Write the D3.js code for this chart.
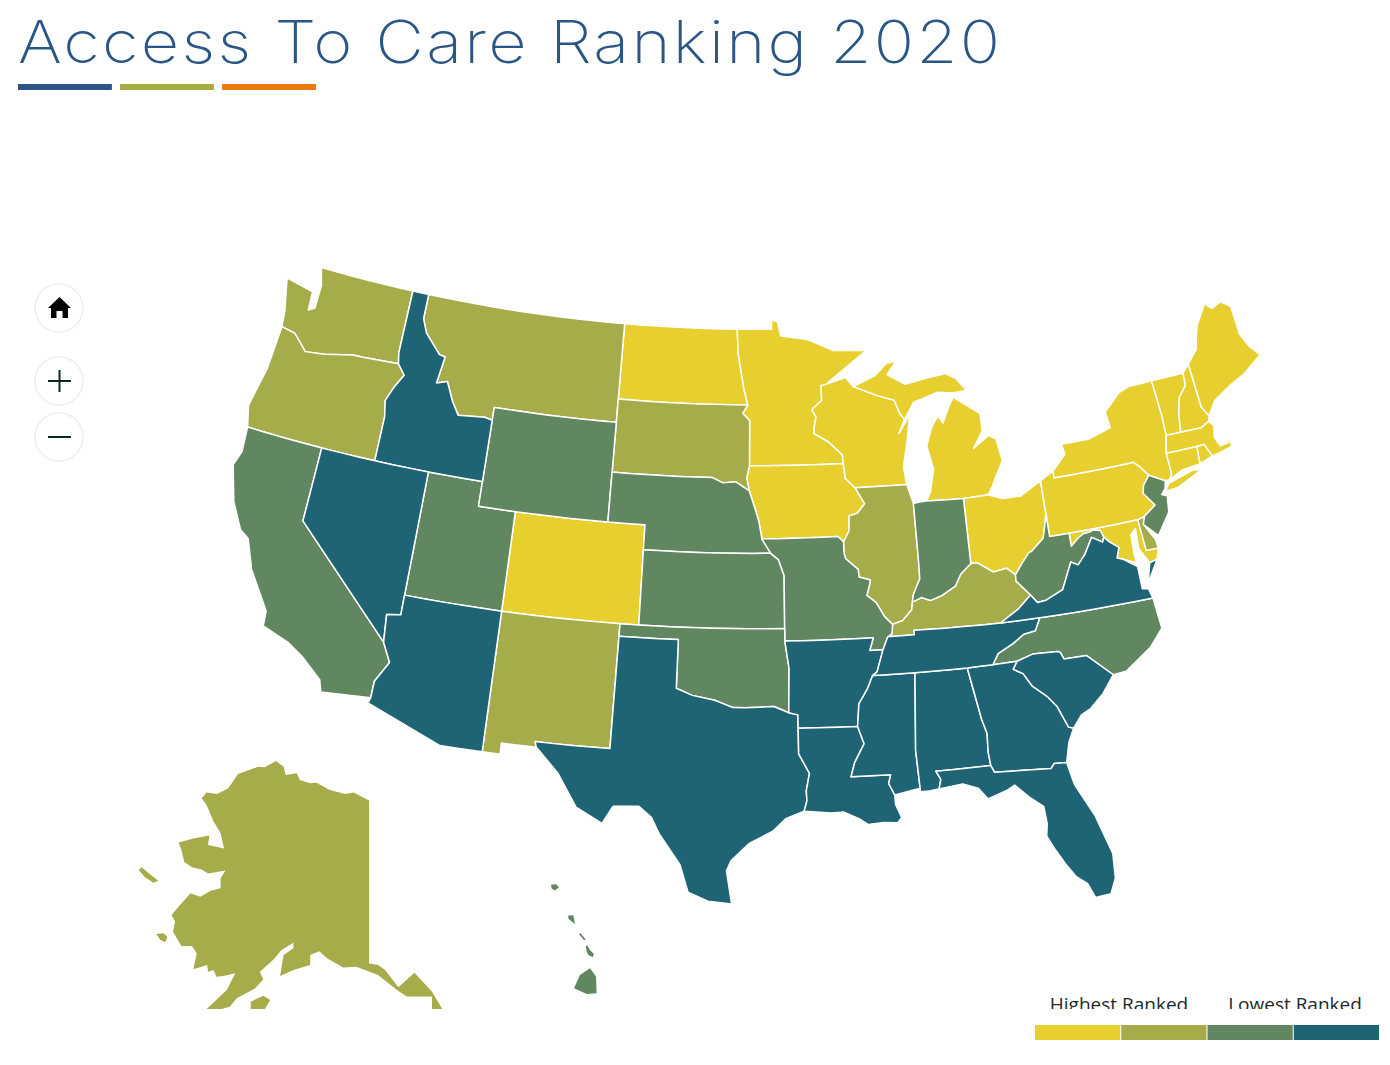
<!DOCTYPE html>
<html><head><meta charset="utf-8">
<script src="https://cdn.jsdelivr.net/npm/d3@7"></script>
<style>html,body{margin:0;background:#fff;overflow:hidden}svg{display:block}</style>
</head><body><svg id="c" width="1390" height="1065"></svg>
<script>
// ---------- shared borders (lon, lat) ----------
const stCroix=[[-92.01,46.71],[-92.29,46.66],[-92.29,46.07],[-92.87,45.72],[-92.65,45.4],[-92.76,45.05],[-92.8,44.75]];
const missMNWI=[[-92.8,44.75],[-92.0,44.4],[-91.25,43.85],[-91.22,43.5]];
const missIAWI=[[-91.22,43.5],[-91.15,42.9],[-90.64,42.51]];
const missIAIL=[[-90.64,42.51],[-90.18,41.85],[-90.58,41.5],[-91.05,41.4],[-91.1,40.8],[-91.42,40.38]];
const missMOIL=[[-91.42,40.38],[-91.42,39.93],[-91.35,39.7],[-90.72,39.25],[-90.7,38.95],[-90.12,38.8],[-90.18,38.6],[-90.35,38.2],[-89.9,37.9],[-89.5,37.3],[-89.13,36.98]];
const missKYMO=[[-89.13,36.98],[-89.2,36.6],[-89.42,36.5]];
const missTNAR=[[-89.42,36.5],[-89.7,36.0],[-90.07,35.13],[-90.3,35.0]];
const missARMS=[[-90.3,35.0],[-90.58,34.5],[-91.05,33.9],[-91.17,33.0]];
const missLAMS=[[-91.17,33.0],[-90.9,32.3],[-91.4,31.55],[-91.6,31.0]];
const ohioIL=[[-89.13,36.98],[-88.6,37.1],[-88.1,37.5],[-88.03,37.8]];
const ohioIN=[[-88.03,37.8],[-87.55,37.95],[-87.1,37.8],[-86.5,37.95],[-85.75,38.27],[-85.4,38.73],[-84.82,39.1]];
const ohioOHKY=[[-84.82,39.1],[-84.5,39.1],[-83.7,38.65],[-83,38.73],[-82.59,38.42]];
const ohioOHWV=[[-82.59,38.42],[-82.15,38.85],[-81.75,39.2],[-81.55,39.27],[-80.87,39.7],[-80.72,40.07],[-80.52,40.64]];
const wabash=[[-88.03,37.8],[-87.95,38.1],[-87.55,38.7],[-87.53,39.35]];
const moIA=[[-96.45,42.49],[-96.1,41.7],[-95.92,41.25],[-95.77,40.58]];
const moMO=[[-95.77,40.58],[-95.3,40.0]];
const moKS=[[-95.3,40.0],[-94.9,39.75],[-94.61,39.11]];
const redRiver=[[-100,34.56],[-99.2,34.3],[-98.1,34.13],[-97.2,33.85],[-96.6,33.85],[-95.2,33.9],[-94.48,33.64]];
const rioGrande=[[-97.15,25.96],[-98.2,26.05],[-99.1,26.4],[-99.5,27.5],[-100.5,28.7],[-100.9,29.35],[-101.5,29.77],[-102.7,29.7],[-103.15,28.98],[-104.4,29.55],[-105.4,30.85],[-106.53,31.78]];
const sabine=[[-93.84,29.69],[-93.7,30.1],[-93.72,30.5],[-93.55,31.2],[-94.04,31.99],[-94.04,33.02]];
const gulfTX=[[-93.84,29.69],[-94.7,29.4],[-95.3,28.9],[-96.4,28.4],[-97.2,27.7],[-97.4,27.3],[-97.15,25.96]];
const gulfLA=[[-89.6,30.17],[-89.6,29.8],[-89.35,29.25],[-89.55,29.05],[-90.2,29.1],[-90.9,29.05],[-91.3,29.3],[-92,29.6],[-92.6,29.58],[-93.84,29.69]];
const pearl=[[-91.6,31.0],[-89.73,31.0],[-89.85,30.65],[-89.6,30.17]];
const tennNC=[[-81.68,36.59],[-82,36.1],[-82.6,36.03],[-83.2,35.72],[-84,35.4],[-84.32,34.99]];
const savannah=[[-83.11,35],[-83.35,34.7],[-82.9,34.48],[-82.55,33.95],[-81.9,33.45],[-81.5,33],[-81.1,32.1],[-80.87,32.03]];
const ncSC=[[-78.55,33.86],[-79.67,34.8],[-80.8,34.82],[-80.93,35.1],[-81.04,35.15],[-82.3,35.2],[-83.11,35]];
const chattahoochee=[[-85.6,34.98],[-85.18,32.87],[-85,32.3],[-85.05,31.55],[-85,31],[-84.86,30.71]];
const potomacUp=[[-79.48,39.2],[-79.05,39.47],[-78.75,39.6],[-78.4,39.62],[-78.2,39.68],[-77.83,39.6],[-77.72,39.32]];
const vaWV=[[-77.72,39.32],[-77.83,39.13],[-78.35,39.4],[-78.87,38.77],[-79.3,38.42],[-79.65,38.58],[-80.3,37.55],[-81.22,37.24],[-81.68,37.2],[-81.97,37.54]];
const kyWV=[[-81.97,37.54],[-82.6,38.17],[-82.59,38.42]];
const kyVA=[[-81.97,37.54],[-82.7,37.05],[-83.68,36.6]];
const idMT=[[-116.05,49],[-116.05,48],[-115.7,47.45],[-114.7,46.7],[-114.35,46.65],[-114.55,45.56],[-113.95,45.7],[-113.45,44.95],[-113,44.45],[-111.5,44.55],[-111.05,44.48]];
const snake=[[-117.03,42],[-117.03,43.8],[-117.2,44.45],[-116.9,45],[-116.46,45.6],[-116.92,46]];
const columbia=[[-116.92,46],[-119,45.93],[-119.6,45.92],[-121.2,45.65],[-122.3,45.55],[-122.8,45.9],[-123.2,46.15],[-124,46.25]];
const colorado=[[-114.05,36.2],[-114.75,36.1],[-114.63,35],[-114.15,34.25],[-114.7,33.4],[-114.72,32.72]];
const delaware=[[-74.7,41.36],[-75.1,41],[-75.2,40.7],[-74.72,40.15],[-75.4,39.8]];
const nyPA=[[-79.76,42.27],[-79.76,42],[-75.35,42],[-75.05,41.75],[-74.7,41.36]];
const ctRiverVT=[[-72.46,42.73],[-72.3,43.5],[-72.05,44.1],[-71.55,44.5],[-71.5,45.01]];
const meNH=[[-70.7,43.07],[-71,43.5],[-71.08,45.3]];
const sdMN=[[-96.56,45.94],[-96.85,45.6],[-96.45,45.3],[-96.45,43.5]];
const wiMIb=[[-90.42,46.57],[-89.1,46.15],[-88.1,45.9],[-87.85,45.35],[-87.6,45.1]];
const neSD=[[-104.05,43],[-98.5,43],[-97.9,42.8],[-97.2,42.85],[-96.45,42.49]];
const flNorth=[[-81.45,30.71],[-82.03,30.75],[-82.21,30.57],[-84.86,30.71]];
const rev=a=>a.slice().reverse();
// ---------- state rings (lon, lat) ----------
const WA=[[-124,46.25],...rev(columbia).slice(1),[-117.04,46.42],[-117.03,49],[-122.75,49],[-122.45,48.3],[-122.45,47.35],[-122.8,47.2],[-122.85,47.95],[-124.55,48.2],[-124.1,46.9]];
const OR=[[-124.2,42],...snake,...columbia.slice(1),[-124.1,44.5],[-124.5,42.85]];
const CA=[[-124.2,42],[-120,42],[-120,39],...colorado.slice(2),[-117.12,32.53],[-117.3,33],[-118.4,33.75],[-119.2,34.15],[-120.6,34.55],[-120.65,35.15],[-121.9,36.6],[-122.5,37.75],[-123,38],[-123.75,39],[-124.35,40.4],[-124.1,41]];
const NV=[[-120,42],[-114.04,42],[-114.05,37],...colorado.slice(0,3),[-120,39]];
const ID=[[-117.03,49],...idMT,[-111.05,42],...snake,[-117.04,46.42]];
const MT=[...rev(idMT),[-104.05,49],[-104.05,45],[-111.05,45]];
const WY=[[-111.05,45],[-104.05,45],[-104.05,41],[-111.05,41]];
const UT=[[-114.04,42],[-111.05,42],[-111.05,41],[-109.05,41],[-109.05,37],[-114.05,37]];
const CO=[[-109.05,41],[-102.05,41],[-102.04,37],[-109.05,37]];
const AZ=[[-114.05,37],[-109.05,37],[-109.05,31.33],[-111.07,31.33],[-114.8,32.5],...rev(colorado)];
const NM=[[-109.05,37],[-103,37],[-103.04,32],[-106.62,32],[-106.53,31.78],[-108.2,31.78],[-108.2,31.33],[-109.05,31.33]];
const ND=[[-104.05,49],[-97.23,49],[-97.15,48],[-96.8,46.6],[-96.56,45.94],[-104.05,45.94]];
const SD=[[-104.05,45.94],...sdMN,[-96.6,43],...rev(neSD)];
const NE=[...neSD,...moIA.slice(1),...moMO.slice(1),[-102.05,40],[-102.05,41],[-104.05,41]];
const KS=[[-102.05,40],...moKS,[-94.62,37],[-102.04,37]];
const OK=[[-103,37],[-94.62,37],[-94.62,36.5],[-94.43,35.4],...rev(redRiver),[-100,36.5],[-103,36.5]];
const TX=[[-103,36.5],[-100,36.5],...redRiver,[-94.04,33.55],...rev(sabine).slice(0,-1),...gulfTX,...rioGrande.slice(1),[-106.62,32],[-103.04,32]];
const MN=[[-97.23,49],[-95.15,49],[-95.15,49.38],[-94.8,49.3],[-94.6,48.72],[-93,48.55],[-91.5,48.07],[-89.5,48],...stCroix,...missMNWI.slice(1),...rev(sdMN),[-96.8,46.6],[-97.15,48]];
const IA=[[-96.45,43.5],...missIAWI,...missIAIL.slice(1),[-91.7,40.6],...rev(moIA),[-96.6,43]];
const MO=[[-95.77,40.58],[-91.7,40.6],...missMOIL,...missKYMO.slice(1),[-89.7,36],[-90.37,36],[-90.15,36.5],[-94.62,36.5],[-94.62,37],...rev(moKS),...rev(moMO)];
const AR=[[-94.62,36.5],[-90.15,36.5],[-90.37,36],[-89.7,36],[-90.07,35.13],...missARMS,[-94.04,33.02],[-94.04,33.55],[-94.48,33.64],[-94.43,35.4]];
const LA=[[-94.04,33.02],...missLAMS,...pearl.slice(1),...gulfLA.slice(1),...sabine.slice(1)];
const WI=[...wiMIb,[-88,44.55],[-87.3,45.25],[-87.55,44.3],[-87.9,43.2],[-87.8,42.49],...rev(missIAWI),...rev(missMNWI).slice(1),...rev(stCroix).slice(1),[-90.85,46.95]];
const IL=[[-87.53,39.35],[-87.53,41.71],[-87.8,42.49],...missIAIL,...missMOIL.slice(1),...ohioIL.slice(1),...wabash.slice(1,-1)];
const IN=[...rev(ohioIN),...wabash.slice(1),[-87.53,41.71],[-87.2,41.75],[-86.82,41.76],[-84.8,41.7]];
const OH=[...ohioOHKY,...ohioOHWV.slice(1),[-80.52,41.98],[-81.7,41.5],[-82.7,41.5],[-83.45,41.73],[-84.8,41.7]];
const MIL=[[-84.8,41.7],[-83.45,41.73],[-83.15,42.05],[-82.9,42.4],[-82.42,43],[-82.6,43.9],[-83,44.07],[-83.9,43.65],[-83.3,44.3],[-83.3,45],[-84.7,45.78],[-85,45.45],[-85.45,44.8],[-85.7,45.1],[-86.1,44.7],[-86.5,43.95],[-86.25,43],[-86.55,42.1],[-86.82,41.76]];
const MIU=[[-90.42,46.57],[-89.1,46.95],[-88.4,47.4],[-87.8,47.47],[-88.4,46.95],[-87.4,46.5],[-86.1,46.67],[-85,46.77],[-84.4,46.5],[-83.9,46],[-84.7,45.95],[-85.6,46.05],[-86.5,45.85],[-87,45.75],[-87.6,45.1],[-87.85,45.35],[-88.1,45.9],[-89.1,46.15]];
const KY=[...ohioIL,...ohioIN.slice(1),...ohioOHKY.slice(1),...rev(kyWV).slice(1),...kyVA.slice(1),[-86.5,36.65],[-88.07,36.68],[-88.07,36.5],[-89.42,36.5],[-89.2,36.6]];
const TN=[[-89.42,36.5],[-88.07,36.5],[-88.07,36.68],[-86.5,36.65],[-83.68,36.6],...tennNC,[-85.6,34.98],[-88.2,34.99],[-90.3,35],[-90.07,35.13],[-89.7,36]];
const MS=[[-90.3,35],[-88.2,34.99],[-88.47,31.9],[-88.4,30.37],[-89.6,30.17],...rev(pearl).slice(1),...rev(missLAMS).slice(1),...rev(missARMS).slice(1)];
const AL=[[-88.2,34.99],[-85.6,34.98],...chattahoochee.slice(1,5),[-87.6,31],[-87.4,30.65],[-87.52,30.28],[-88,30.23],[-88.4,30.23],[-88.4,30.37],[-88.47,31.9]];
const GA=[[-85.6,34.98],[-84.32,34.99],...savannah,[-81.2,31.5],...flNorth,...rev(chattahoochee).slice(1)];
const FL=[...flNorth,[-85,31],[-87.6,31],[-87.4,30.65],[-87.52,30.28],[-86.4,30.39],[-85.7,30.15],[-85.3,29.68],[-84.35,29.95],[-84,30.1],[-83.4,29.55],[-82.8,29.1],[-82.75,28.4],[-82.85,27.9],[-82.6,27.4],[-82.2,26.7],[-81.8,26.1],[-81.35,25.75],[-81.1,25.15],[-80.4,25.2],[-80.1,25.8],[-80.03,26.8],[-80.55,28.45],[-81.25,29.8]];
const SC=[...ncSC,...savannah.slice(1),[-80.4,32.5],[-79.9,32.7],[-79.2,33.2]];
const NC=[[-81.68,36.59],[-75.87,36.55],[-75.75,35.3],[-76.5,34.65],[-77.9,33.9],...ncSC,[-84.32,34.99],...rev(tennNC).slice(1)];
const VA=[[-83.68,36.6],[-81.68,36.59],[-75.87,36.55],[-76,36.95],[-76.3,37],[-76.3,37.9],[-76.95,38.3],[-77.25,38.4],[-77.05,38.8],[-77.5,39.1],...vaWV,...kyVA.slice(1)];
const VAE=[[-75.24,38.03],[-75.95,37.15],[-75.65,37.95]];
const WV=[[-80.52,40.64],[-80.52,39.72],[-79.48,39.72],...potomacUp,...vaWV.slice(1),...kyWV.slice(1),...ohioOHWV.slice(1)];
const MD=[[-79.48,39.72],[-75.79,39.72],[-75.69,38.46],[-75.05,38.45],[-75.24,38.03],[-75.65,37.95],[-76.05,38.6],[-76,39.4],[-76.3,39.2],[-76.35,38.4],[-76.3,38.05],[-76.95,38.3],[-77.25,38.4],[-77.05,38.8],[-77.5,39.1],...rev(potomacUp)];
const DE=[[-75.79,39.72],[-75.4,39.8],[-75.55,39.5],[-75.1,38.8],[-75.05,38.45],[-75.69,38.46]];
const NJ=[...delaware,[-75.55,39.5],[-74.9,38.93],[-74.1,39.75],[-73.98,40.4],[-74.25,40.5],[-74,40.7],[-73.9,41]];
const PA=[...nyPA,...delaware.slice(1),[-75.79,39.72],[-79.48,39.72],[-80.52,39.72],[-80.52,41.98]];
const NY=[...nyPA,[-73.9,41],[-73.65,41],[-73.48,41.2],[-73.5,42.05],[-73.27,42.75],[-73.25,43.6],[-73.35,45.01],[-74.7,45],[-75.3,44.85],[-76.3,44.2],[-76.2,43.55],[-77.5,43.27],[-79.05,43.27],[-78.95,42.85]];
const NYL=[[-74,40.58],[-73.75,40.87],[-72.3,41.15],[-71.87,41.07],[-73.3,40.63]];
const CT=[[-73.5,42.05],[-73.48,41.2],[-73.65,41],[-72.9,41.25],[-71.86,41.32],[-71.8,42.02]];
const RI=[[-71.8,42.02],[-71.86,41.32],[-71.12,41.5],[-71.38,42.02]];
const MA=[[-73.5,42.05],[-71.8,42.02],[-71.38,42.02],[-71.12,41.5],[-70.65,41.55],[-69.95,41.67],[-69.97,41.95],[-70.2,42.08],[-70.05,41.85],[-70.55,41.8],[-70.75,42.2],[-70.6,42.65],[-70.82,42.87],[-71.3,42.7],[-72.46,42.73],[-73.27,42.75]];
const VT=[[-73.27,42.75],...ctRiverVT,[-73.35,45.01],[-73.25,43.6]];
const NH=[...ctRiverVT,[-71.08,45.3],...rev(meNH).slice(1),[-70.82,42.87],[-71.3,42.7]];
const ME=[...meNH,[-70.4,45.8],[-70.25,46.2],[-70,46.7],[-69.23,47.46],[-68.9,47.2],[-68.3,47.36],[-67.8,47.07],[-67.78,45.9],[-67.45,45.3],[-67,44.85],[-68.2,44.3],[-69.05,44.05],[-70.2,43.6]];
// Alaska and Hawaii, read on the inset's own lon/lat axes
const AK=[[-164.9,69.71],[-164.2,70.05],[-162.7,69.96],[-161.1,70.28],[-159.7,71.1],[-156.8,71.52],[-155.9,71.48],[-154.3,71.84],[-153.2,71.52],[-152.9,71.04],[-151.3,71.14],[-150.9,70.76],[-149.4,70.57],[-148.5,70.6],[-146.6,70.19],[-144.4,69.96],[-143.2,70.05],[-141,69.58],[-141,60.28],[-139.7,60.19],[-138.7,59.9],[-136.8,58.91],[-134.5,59.75],[-132,58.66],[-130.5,57.65],[-129.9,57.23],[-132,57.23],[-132,58.38],[-135.6,58.38],[-137,58.76],[-139.7,59.61],[-142.8,60.09],[-144.7,60.05],[-147,60.57],[-148.1,60.97],[-149.4,60.76],[-149.4,60.19],[-151.8,59.9],[-153.7,59.56],[-153.2,60.76],[-151.8,61.14],[-151.8,61.46],[-153.5,61.04],[-154.7,60.47],[-156.6,59.8],[-156.1,59.37],[-157.3,58.85],[-159.9,58.28],[-160.9,57.8],[-162.3,57.65],[-164.9,57.4],[-162.3,58.38],[-161.3,58.76],[-160.1,59.71],[-161.8,59.56],[-162.8,59.52],[-163.2,59.9],[-164,59.8],[-164.1,60.19],[-166.1,59.94],[-165.6,60.85],[-166.3,61.27],[-167.8,61.27],[-169,62.09],[-168.7,62.66],[-169.2,63.04],[-168,63.61],[-166.5,64.28],[-165.1,64.09],[-163.7,64.41],[-162.2,64.57],[-162.2,65.14],[-161.5,65.58],[-164,65.42],[-164.9,65.65],[-166.3,65.77],[-167.4,66.09],[-167.8,66.76],[-168.2,67.18],[-166.1,67.42],[-163.8,67.58],[-164,67.04],[-161.7,66.85],[-162.2,67.71],[-163.2,68.38],[-164.2,69.33]];
const AK2=[[-173.9,65.61],[-173.5,65.77],[-172.5,65.45],[-171.1,65],[-171.8,64.88],[-173,65.2]];
const AK3=[[-171.4,61.96],[-170.4,62],[-169.8,61.8],[-170.1,61.48],[-170.8,61.61]];
const AK4=[[-157.9,58.09],[-156.1,58.43],[-155.1,58.19],[-156.3,57.4],[-157.9,57.4]];
const HI1=[[-160,22.06],[-159.46,22.08],[-159.13,21.99],[-159.57,21.9],[-159.93,21.96]];
const HI2=[[-158.12,21.2],[-157.57,21.21],[-157.39,20.96],[-157.75,21.03],[-158.12,21.12]];
const HI3=[[-156.96,20.68],[-156.78,20.7],[-156.23,20.53],[-156.41,20.51]];
const HI4=[[-156.23,20.33],[-156.05,20.37],[-155.76,20.23],[-155.33,20.12],[-155.47,20.03],[-155.94,20.09],[-156.12,20.19]];
const HI5=[[-155.76,19.72],[-155.11,19.49],[-155.04,19.02],[-156.12,19],[-157.5,19.16],[-156.85,19.53]];
// ---------- values ----------
const rankLabels=["Highest Ranked","Lowest Ranked"];
const rankColors=["#E8CF30","#A6AC4A","#608760","#1F6475"];
const rank1=[CO,ND,MN,IA,WI,MIL,MIU,OH,PA,NY,NYL,VT,NH,ME,MA,RI,CT,MD];
const rank2=[WA,OR,MT,SD,NM,IL,KY,DE];
const rank3=[CA,UT,WY,NE,KS,MO,OK,IN,WV,NC,NJ];
const rank4=[ID,NV,AZ,TX,AR,LA,MS,AL,GA,SC,FL,TN,VA,VAE];
const titleText="Access To Care Ranking 2020";
const titleBars=["#2E5487","#A6AC40","#EC7A10"];

const svg=d3.select("#c");
const projection=d3.geoAlbers().scale(1425).translate([746,586]);
const dens=r=>{const o=[];r.forEach((p,i)=>{const q=r[(i+1)%r.length];o.push(p);
  if(Math.abs(p[1]-q[1])<0.06&&Math.abs(p[0]-q[0])>1){const n=Math.ceil(Math.abs(p[0]-q[0]));for(let k=1;k<n;k++)o.push([p[0]+(q[0]-p[0])*k/n,p[1]+(q[1]-p[1])*k/n]);}});return o;};
const line=d3.line();
const mapG=svg.append("g");
[rank1,rank2,rank3,rank4].forEach((group,i)=>{
  mapG.selectAll(null).data(group).enter().append("path")
    .attr("d",r=>line(dens(r).map(p=>projection(p)))+"Z")
    .attr("fill",rankColors[i]).attr("stroke","#fff").attr("stroke-width",1.5).attr("stroke-linejoin","round");
});
// insets
const defs=svg.append("defs");
defs.append("clipPath").attr("id","inset").append("rect").attr("x",0).attr("y",0).attr("width",1390).attr("height",1009);
defs.append("clipPath").attr("id","legclip").append("rect").attr("x",1000).attr("y",990).attr("width",390).attr("height",19);
const akX=d3.scaleLinear().domain([-141,-131]).range([369,439]);
const akY=d3.scaleLinear().domain([60.3,70.3]).range([963,788]);
const hiX=d3.scaleLinear().domain([-160,-155]).range([551,597]);
const hiY=d3.scaleLinear().domain([22,19]).range([887,994]);
const inset=svg.append("g").attr("clip-path","url(#inset)");
inset.selectAll(null).data([AK,AK2,AK3,AK4]).enter().append("path")
  .attr("d",d3.line().x(d=>akX(d[0])).y(d=>akY(d[1]))).attr("fill",rankColors[1]);
inset.selectAll(null).data([HI1,HI2,HI3,HI4,HI5]).enter().append("path")
  .attr("d",d3.line().x(d=>hiX(d[0])).y(d=>hiY(d[1]))).attr("fill",rankColors[2]);
// title
svg.append("text").attr("transform","translate(18,63) scale(1.13,1)").text(titleText)
  .attr("font-family","Inter,Lato,sans-serif").attr("font-weight",250).attr("font-size",59)
  .attr("fill","#2A5686").attr("textLength",869).attr("lengthAdjust","spacing");
const barX=d3.scaleBand().domain(titleBars).range([18,316]).paddingInner(0.08).paddingOuter(0);
svg.selectAll(".tb").data(titleBars).enter().append("rect").attr("x",d=>barX(d)).attr("y",84).attr("width",barX.bandwidth()).attr("height",6).attr("fill",d=>d);
// controls
const ctl=svg.append("g");
[308,381,437].forEach(y=>ctl.append("circle").attr("cx",59).attr("cy",y).attr("r",24).attr("fill","#fff").attr("stroke","#EFEFE8").attr("stroke-width",1.5));
ctl.append("path").attr("d","M48 308L59.5 297L71 308H68V318H62.5V311H56.5V318H51V308Z").attr("fill","#000");
ctl.append("path").attr("d","M48 381H71M59.5 370V392M48 437H71").attr("stroke","#0F2A1C").attr("stroke-width",2).attr("fill","none");
// legend
const legX=d3.scaleBand().domain(rankColors).range([1035,1379]).paddingInner(0.012);
svg.selectAll(".lg").data(rankColors).enter().append("rect").attr("x",d=>legX(d)).attr("y",1025).attr("width",legX.bandwidth()).attr("height",15).attr("fill",d=>d);
const lg=svg.append("g").attr("clip-path","url(#legclip)");
lg.selectAll("text").data(rankLabels).enter().append("text").attr("x",(d,i)=>i?1295:1119).attr("y",1011).attr("text-anchor","middle").text(d=>d)
  .attr("font-family","'Open Sans',sans-serif").attr("font-size",19).attr("fill","#1C2A2A");
</script></body></html>
